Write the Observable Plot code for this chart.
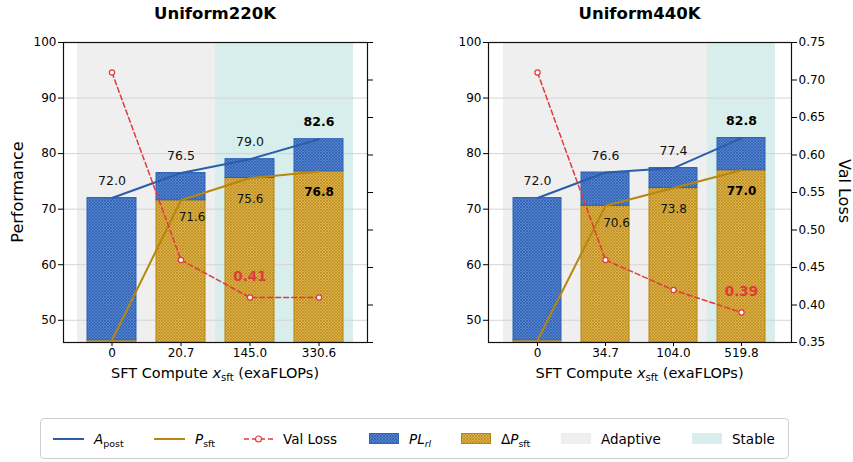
<!DOCTYPE html>
<html>
<head>
<meta charset="utf-8">
<script src="https://cdn.jsdelivr.net/npm/d3@7"></script>
<script src="https://cdn.jsdelivr.net/npm/@observablehq/plot@0.6"></script>
<style>
  html, body { margin: 0; padding: 0; background: #fff; }
  #root { position: relative; width: 853px; height: 462px; font-family: "DejaVu Sans", sans-serif; color: #000; overflow: hidden; }
  .abs { position: absolute; white-space: nowrap; }
  .title { font-weight: bold; font-size: 16.5px; transform: translate(-50%, -50%); }
  .xlab { font-size: 14.5px; transform: translate(-50%, -50%); }
  .ylab { font-size: 16px; }
  .legend { position: absolute; left: 40px; top: 418px; width: 749px; height: 41px; border: 1px solid #cfcfcf; border-radius: 4px; box-sizing: border-box; }
  .lg-item { position: absolute; top: 50%; transform: translateY(-50%); font-size: 13.5px; display: flex; align-items: center; }
  sub { font-size: 70%; vertical-align: -0.3em; line-height: 0; }
</style>
</head>
<body>
<div id="root"></div>
<script>
// ---------------- data ----------------
const panelTitles = ["Uniform220K", "Uniform440K"];
const computeLabels220 = ["0", "20.7", "145.0", "330.6"];
const computeLabels440 = ["0", "34.7", "104.0", "519.8"];
const apost220 = [72.0, 76.5, 79.0, 82.6];
const apost440 = [72.0, 76.6, 77.4, 82.8];
const psft220 = [46.4, 71.6, 75.6, 76.8];
const psft440 = [46.4, 70.6, 73.8, 77.0];
const valLoss220 = [0.71, 0.46, 0.41, 0.41];
const valLoss440 = [0.71, 0.46, 0.42, 0.39];
const phase220 = ["Adaptive", "Adaptive", "Stable", "Stable"];
const phase440 = ["Adaptive", "Adaptive", "Adaptive", "Stable"];
const perfTicks = [50, 60, 70, 80, 90, 100];
const lossTicks = [0.35, 0.40, 0.45, 0.50, 0.55, 0.60, 0.65, 0.70, 0.75];
const perfDomain = [46, 100];
const lossDomain = [0.35, 0.75];

// ---------------- styles ----------------
const FONT = "DejaVu Sans";
const BLUE_LINE = "#2a5dab";
const GOLD_LINE = "#b8860b";
const BLUE_EDGE = "#2d62b6";
const GOLD_EDGE = "#b8860b";
const RED = "#e23a3c";
const phaseColor = {Adaptive: "#efefef", Stable: "#d8eeec"};
const fmt1 = d3.format(".1f");
const fmt2 = d3.format(".2f");

const root = document.getElementById("root");

// hatch patterns
root.insertAdjacentHTML("beforeend", `
<svg width="0" height="0" style="position:absolute">
  <defs>
    <pattern id="hatchBlue" patternUnits="userSpaceOnUse" width="3" height="3">
      <rect width="3" height="3" fill="#5683cf"/>
      <path d="M0,0 L3,3 M3,0 L0,3" stroke="#2b5cae" stroke-width="0.7"/>
    </pattern>
    <pattern id="hatchGold" patternUnits="userSpaceOnUse" width="3" height="3">
      <rect width="3" height="3" fill="#dcb148"/>
      <path d="M0,0 L3,3 M3,0 L0,3" stroke="#b98a1c" stroke-width="0.7"/>
    </pattern>
  </defs>
</svg>`);

const panels = [
  {title: panelTitles[0], labels: computeLabels220, apost: apost220, psft: psft220, loss: valLoss220, phase: phase220,
   left: 0, width: 430, mr: 63, rightLabels: false},
  {title: panelTitles[1], labels: computeLabels440, apost: apost440, psft: psft440, loss: valLoss440, phase: phase440,
   left: 425, width: 428, mr: 62, rightLabels: true}
];

const H = 390, MT = 42, MB = 48, ML = 63;
const PI = 0.29, PO = 0.345;

for (const cfg of panels) {
  const data = cfg.labels.map((c, i) => ({c, i, apost: cfg.apost[i], psft: cfg.psft[i], loss: cfg.loss[i], phase: cfg.phase[i]}));
  const last = data.length - 1;
  const n = data.length;
  const step = (cfg.width - ML - cfg.mr) / (n - PI + 2 * PO);
  const gap = step * PI / 2;
  const xScale = {type: "band", domain: cfg.labels, paddingInner: PI, paddingOuter: PO};
  const common = {
    width: cfg.width, height: H, marginLeft: ML, marginRight: cfg.mr, marginTop: MT, marginBottom: MB,
    style: {fontFamily: FONT, fontSize: "12px", background: "transparent", overflow: "visible"}
  };

  const main = Plot.plot({
    ...common,
    x: {...xScale, axis: null},
    y: {domain: perfDomain, axis: null},
    marks: [
      Plot.barY(data, {x: "c", y1: perfDomain[0], y2: perfDomain[1], fill: d => phaseColor[d.phase], insetLeft: -gap, insetRight: -gap}),
      Plot.gridY(perfTicks, {stroke: "#d4d4d4", strokeOpacity: 1, strokeWidth: 1}),
      Plot.barY(data, {x: "c", y1: perfDomain[0], y2: "psft", fill: "url(#hatchGold)", stroke: GOLD_EDGE, strokeWidth: 1}),
      Plot.barY(data, {x: "c", y1: "psft", y2: "apost", fill: "url(#hatchBlue)", stroke: BLUE_EDGE, strokeWidth: 1}),
      Plot.line(data, {x: "c", y: "apost", stroke: BLUE_LINE, strokeWidth: 2}),
      Plot.line(data, {x: "c", y: "psft", stroke: GOLD_LINE, strokeWidth: 2}),
      Plot.text(data.filter(d => d.i < last), {x: "c", y: "apost", text: d => fmt1(d.apost), dy: -17, fontSize: 12.5, fill: "#111"}),
      Plot.text(data.filter(d => d.i === last), {x: "c", y: "apost", text: d => fmt1(d.apost), dy: -17, fontSize: 12.5, fontWeight: "bold", fill: "#000"}),
      Plot.text(data.filter(d => d.i === 1), {x: "c", y: "psft", text: d => fmt1(d.psft), dy: 17, dx: 11, fontSize: 12, fill: "#111"}),
      Plot.text(data.filter(d => d.i > 1 && d.i < last), {x: "c", y: "psft", text: d => fmt1(d.psft), dy: 21, fontSize: 12, fill: "#111"}),
      Plot.text(data.filter(d => d.i === last), {x: "c", y: "psft", text: d => fmt1(d.psft), dy: 21, fontSize: 12, fontWeight: "bold", fill: "#000"}),
      Plot.axisY({ticks: perfTicks, tickSize: 5, tickPadding: 2, label: null, fontSize: 12}),
      Plot.axisX({tickSize: 4, tickPadding: 2, label: null, fontSize: 12}),
      Plot.frame({stroke: "#111", strokeWidth: 1.2})
    ]
  });

  let minIdx = 0;
  data.forEach((d, i) => { if (d.loss < data[minIdx].loss) minIdx = i; });

  const overlay = Plot.plot({
    ...common,
    x: {...xScale, axis: null},
    y: {domain: lossDomain, axis: null},
    marks: [
      Plot.axisY({anchor: "right", ticks: lossTicks, tickSize: 5, tickPadding: 2, label: null, fontSize: 12,
                  tickFormat: cfg.rightLabels ? fmt2 : () => ""}),
      Plot.line(data, {x: "c", y: "loss", stroke: RED, strokeWidth: 1.5, strokeDasharray: "5,3"}),
      Plot.dot(data, {x: "c", y: "loss", r: 2.6, fill: "white", stroke: RED, strokeWidth: 1.2}),
      Plot.text([data[minIdx]], {x: "c", y: "loss", text: d => fmt2(d.loss), dy: -21, fill: RED, fontWeight: "bold", fontSize: 13.5})
    ]
  });

  for (const svg of [main, overlay]) {
    svg.style.position = "absolute";
    svg.style.left = cfg.left + "px";
    svg.style.top = "0px";
    root.appendChild(svg);
  }

  const cx = cfg.left + ML + (cfg.width - ML - cfg.mr) / 2;
  root.insertAdjacentHTML("beforeend",
    `<div class="abs title" style="left:${cx}px;top:13px">${cfg.title}</div>
     <div class="abs xlab" style="left:${cx}px;top:373px">SFT Compute <i>x</i><sub>sft</sub> (exaFLOPs)</div>`);
}

root.insertAdjacentHTML("beforeend",
  `<div class="abs ylab" style="left:17px;top:192px;transform:translate(-50%,-50%) rotate(-90deg)">Performance</div>
   <div class="abs ylab" style="left:844px;top:191px;transform:translate(-50%,-50%) rotate(90deg)">Val Loss</div>`);

// legend
const legendItems = [
  {x: 12, sw: `<svg width="31" height="10"><line x1="0" y1="5" x2="31" y2="5" stroke="${BLUE_LINE}" stroke-width="2"/></svg>`, label: `<i>A</i><sub>post</sub>`},
  {x: 113, sw: `<svg width="31" height="10"><line x1="0" y1="5" x2="31" y2="5" stroke="${GOLD_LINE}" stroke-width="2"/></svg>`, label: `<i>P</i><sub>sft</sub>`},
  {x: 203, sw: `<svg width="29" height="10"><line x1="0" y1="5" x2="29" y2="5" stroke="${RED}" stroke-width="1.5" stroke-dasharray="5,3"/><circle cx="14.5" cy="5" r="3" fill="white" stroke="${RED}" stroke-width="1.2"/></svg>`, label: `Val Loss`},
  {x: 328, sw: `<svg width="30" height="11"><rect x="0.5" y="0.5" width="29" height="10" fill="url(#hatchBlue)" stroke="${BLUE_EDGE}" stroke-width="1"/></svg>`, label: `<i>PL<sub>rl</sub></i>`},
  {x: 420, sw: `<svg width="30" height="11"><rect x="0.5" y="0.5" width="29" height="10" fill="url(#hatchGold)" stroke="${GOLD_EDGE}" stroke-width="1"/></svg>`, label: `Δ<i>P</i><sub>sft</sub>`},
  {x: 520, sw: `<svg width="30" height="11"><rect width="30" height="11" fill="${phaseColor.Adaptive}"/></svg>`, label: `Adaptive`},
  {x: 651, sw: `<svg width="30" height="11"><rect width="30" height="11" fill="${phaseColor.Stable}"/></svg>`, label: `Stable`}
];
const legend = document.createElement("div");
legend.className = "legend";
legend.innerHTML = legendItems.map(it =>
  `<div class="lg-item" style="left:${it.x}px">${it.sw}<span style="margin-left:10px">${it.label}</span></div>`).join("");
root.appendChild(legend);
</script>
</body>
</html>
